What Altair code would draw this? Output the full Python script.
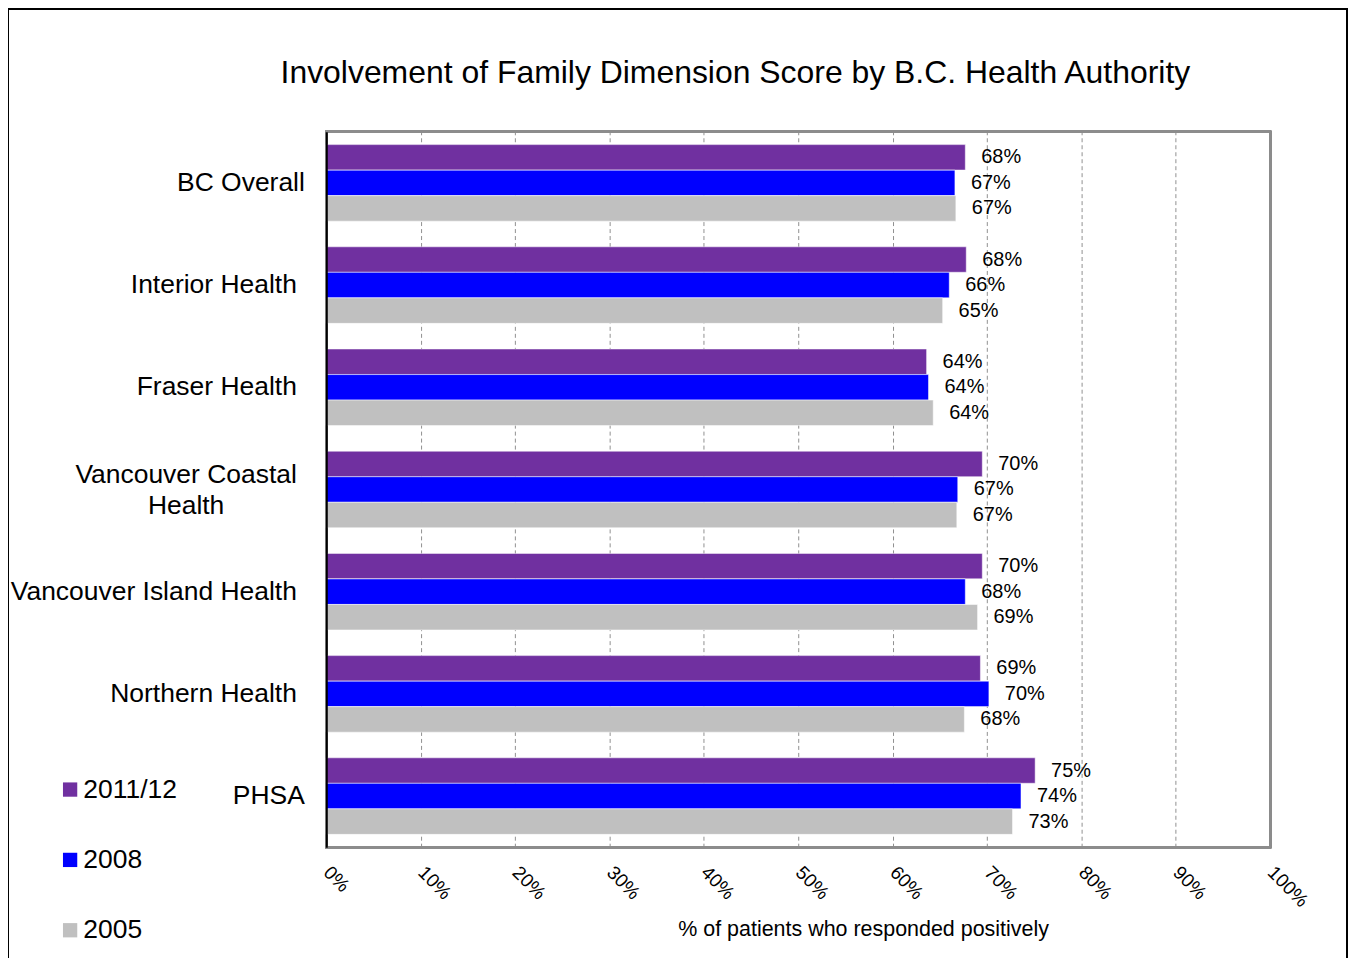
import altair as alt
import pandas as pd

authorities = ["BC Overall", "Interior Health", "Fraser Health", "Vancouver Coastal Health",
               "Vancouver Island Health", "Northern Health", "PHSA"]
years = ["2011/12", "2008", "2005"]
v2011 = [67.7, 67.8, 63.6, 69.5, 69.5, 69.3, 75.1]
v2008 = [66.6, 66.0, 63.8, 66.9, 67.7, 70.2, 73.6]
v2005 = [66.7, 65.3, 64.3, 66.8, 69.0, 67.6, 72.7]
colors = ["#7030A0", "#0000FF", "#C0C0C0"]
x_ticks = [0, 10, 20, 30, 40, 50, 60, 70, 80, 90, 100]
title_text = "Involvement of Family Dimension Score by B.C. Health Authority"
x_title = "% of patients who responded positively"

rows = []
for yr, vals in zip(years, [v2011, v2008, v2005]):
    for a, v in zip(authorities, vals):
        rows.append({"authority": a, "year": yr, "value": v, "label": f"{round(v):d}%"})
df = pd.DataFrame(rows)

FONT = "Liberation Sans"
VCH = "datum.value == 'Vancouver Coastal Health'"

y_enc = alt.Y("authority:N", sort=authorities, title=None,
              scale=alt.Scale(paddingInner=0.25, paddingOuter=0.125),
              axis=alt.Axis(labelFontSize=26.5, labelFont=FONT, labelColor="black",
                            labelPadding={"condition": [
                                {"test": "datum.value == 'BC Overall' || datum.value == 'PHSA'", "value": 22},
                                {"test": VCH, "value": 141}], "value": 30},
                            labelAlign={"condition": {"test": VCH, "value": "center"}, "value": "right"},
                            labelOffset={"condition": {"test": VCH, "value": -14}, "value": 0},
                            labelLineHeight=31,
                            ticks=False, domain=True, domainColor="black",
                            domainWidth=2, labelLimit=400, zindex=2,
                            labelExpr=f"{VCH} ? ['Vancouver Coastal', 'Health'] : datum.label"))
x_enc = alt.X("value:Q", title=x_title,
              scale=alt.Scale(domain=[0, 100], nice=False),
              axis=alt.Axis(values=x_ticks, labelExpr="datum.value + '%'", labelAngle=45,
                            labelAlign="left", labelBaseline="middle", labelPadding=22,
                            labelFontSize=19, labelFont=FONT, labelColor="black",
                            titleFontSize=21.5, titleFont=FONT, titleFontWeight="normal",
                            titleColor="black", titleX=538, titleY=72,
                            grid=True, gridDash=[4, 3], gridColor="#909090", gridWidth=1,
                            ticks=False, domain=False))

bars = alt.Chart(df).mark_bar(size=25.5, stroke="white", strokeWidth=0.5).encode(
    x=x_enc,
    y=y_enc,
    yOffset=alt.YOffset("year:N", sort=years),
    color=alt.Color("year:N", sort=years,
                    scale=alt.Scale(domain=years, range=colors),
                    legend=alt.Legend(title=None, orient="none", legendX=-270, legendY=646,
                                      symbolType="square", symbolSize=205,
                                      symbolStrokeWidth=0, labelFontSize=26.5, labelFont=FONT,
                                      labelColor="black", rowPadding=43.5, labelOffset=0)),
)

labels = alt.Chart(df).mark_text(align="left", baseline="middle", dx=16, fontSize=20,
                                 font=FONT, color="black").encode(
    x="value:Q",
    y=alt.Y("authority:N", sort=authorities),
    yOffset=alt.YOffset("year:N", sort=years),
    text="label:N",
)

frame = alt.Chart(df).mark_rect(fill=None, stroke="black", strokeWidth=1.5).encode(
    x=alt.value(-319), x2=alt.value(1023), y=alt.value(-123), y2=alt.value(860)
)

plot_border = alt.Chart(df).mark_rect(fill=None, stroke="#8c8c8c", strokeWidth=2).encode(
    x=alt.value(0), x2=alt.value(946), y=alt.value(0), y2=alt.value(717)
)

title = alt.Chart(pd.DataFrame({"t": [title_text]})).mark_text(
    fontSize=32, font=FONT, color="black", align="center", baseline="middle"
).encode(x=alt.value(410), y=alt.value(-59), text="t:N")

chart = alt.layer(frame, plot_border, bars, labels, title).properties(
    width=946, height=717,
    padding={"left": 319, "top": 123, "right": 78, "bottom": 110},
    autosize=alt.AutoSizeParams(type="none"),
).configure_view(stroke=None).configure(background="white")

chart.save("out.html", embed_options={"renderer": "svg", "actions": False})
